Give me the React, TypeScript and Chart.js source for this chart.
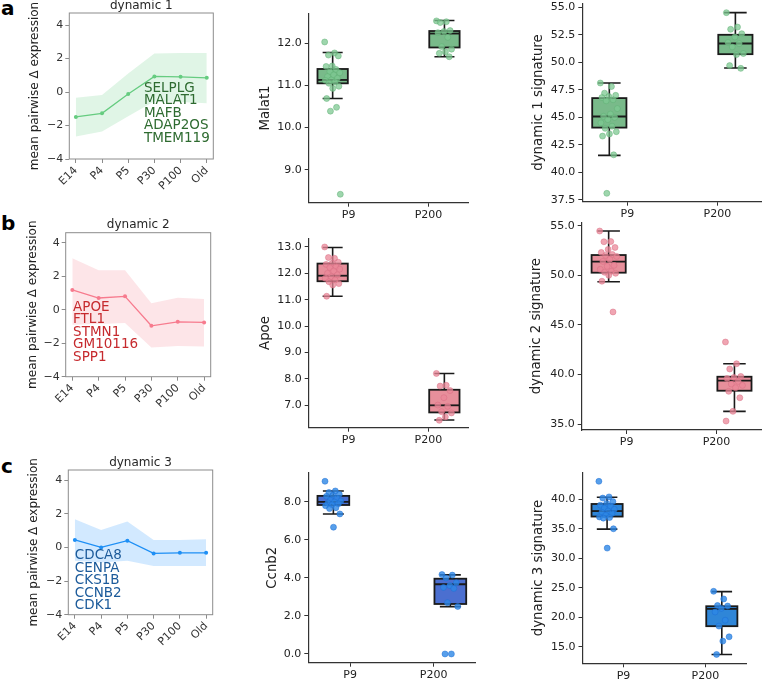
import React, { useEffect, useRef } from "react";
import { Chart, registerables } from "chart.js";

Chart.register(...registerables);
const FONT = "'DejaVu Sans', sans-serif";
Chart.defaults.font.family = FONT;

// ---------- data ----------
const stages = ["E14", "P4", "P5", "P30", "P100", "Old"];
const lineYTicks = [-4, -2, 0, 2, 4];

const dyn1Mean = [-1.49, -1.27, -0.12, 0.93, 0.91, 0.85];
const dyn1Upper = [-0.34, -0.18, 1.1, 2.3, 2.33, 2.33];
const dyn1Lower = [-2.66, -2.36, -1.45, -0.55, -0.6, -0.67];
const dyn1Genes = ["SELPLG", "MALAT1", "MAFB", "ADAP2OS", "TMEM119"];

const dyn2Mean = [1.18, 0.7, 0.8, -0.96, -0.72, -0.76];
const dyn2Upper = [3.07, 2.36, 2.36, 0.39, 0.72, 0.64];
const dyn2Lower = [-0.9, -0.85, -0.8, -2.26, -2.16, -2.2];
const dyn2Genes = ["APOE", "FTL1", "STMN1", "GM10116", "SPP1"];

const dyn3Mean = [0.44, 0.0, 0.4, -0.36, -0.32, -0.32];
const dyn3Upper = [1.68, 1.03, 1.54, 0.44, 0.44, 0.48];
const dyn3Lower = [-0.8, -0.9, -0.8, -1.11, -1.11, -1.11];
const dyn3Genes = ["CDCA8", "CENPA", "CKS1B", "CCNB2", "CDK1"];

const ages = ["P9", "P200"];

// box stats: [lower whisker, Q1, median, Q3, upper whisker]
const malat1P9 = [12.03, 11.77, 11.72, 11.7, 11.46, 11.45, 11.38, 11.33, 11.3, 11.25, 11.21, 11.17, 11.13, 11.12, 11.08, 11.05, 10.98, 10.93, 10.69, 10.48, 10.39, 8.42];
const malat1P200 = [12.53, 12.51, 12.49, 12.3, 12.28, 12.25, 12.14, 11.92, 11.86, 11.8, 11.76, 11.68];
const malat1BoxP9 = [10.69, 11.05, 11.13, 11.39, 11.78];
const malat1BoxP200 = [11.68, 11.9, 12.23, 12.29, 12.54];
const malat1Ticks = [9, 10, 11, 12];

const sig1P9 = [48.12, 47.8, 47.2, 47.0, 46.9, 46.8, 46.6, 46.5, 45.8, 45.3, 45.1, 45.0, 44.8, 44.5, 44.2, 44.0, 43.7, 43.5, 43.3, 41.6, 38.1];
const sig1P200 = [54.51, 53.2, 53.0, 52.6, 52.3, 51.8, 51.7, 51.4, 50.8, 50.7, 49.7, 49.45];
const sig1BoxP9 = [41.55, 44.07, 45.08, 46.75, 48.12];
const sig1BoxP200 = [49.49, 50.74, 51.71, 52.5, 54.51];
const sig1Ticks = [37.5, 40, 42.5, 45, 47.5, 50, 52.5, 55];

const apoeP9 = [13.0, 12.57, 12.6, 12.42, 12.38, 12.34, 12.25, 12.22, 12.16, 12.09, 12.0, 11.94, 11.87, 11.81, 11.75, 11.68, 11.61, 11.56, 11.13];
const apoeP200 = [8.2, 7.75, 7.72, 7.55, 7.28, 7.0, 6.95, 6.75, 6.7, 6.55, 6.42];
const apoeBoxP9 = [11.13, 11.7, 11.91, 12.37, 12.98];
const apoeBoxP200 = [6.43, 6.72, 6.99, 7.58, 8.2];
const apoeTicks = [7, 8, 9, 10, 11, 12, 13];

const sig2P9 = [54.46, 53.4, 53.38, 52.8, 52.6, 52.3, 52.1, 52.0, 51.9, 51.6, 51.4, 51.0, 50.9, 50.6, 50.4, 50.3, 50.2, 50.0, 49.4, 46.3];
const sig2P200 = [43.27, 41.08, 40.55, 39.8, 39.7, 39.6, 39.3, 39.03, 38.9, 38.66, 38.3, 37.65, 36.28, 35.3];
const sig2BoxP9 = [49.35, 50.26, 51.37, 52.04, 54.46];
const sig2BoxP200 = [36.28, 38.36, 39.37, 39.77, 41.08];
const sig2Ticks = [35, 40, 45, 50, 55];

const ccnb2P9 = [9.09, 8.58, 8.5, 8.4, 8.35, 8.3, 8.2, 8.1, 8.05, 8.0, 7.95, 7.9, 7.85, 7.8, 7.7, 7.65, 7.37, 6.67];
const ccnb2P200 = [4.18, 4.15, 4.0, 3.75, 3.6, 3.5, 3.45, 2.7, 2.5, 0.0, 0.0];
const ccnb2BoxP9 = [7.37, 7.84, 8.0, 8.32, 8.58];
const ccnb2BoxP200 = [2.49, 2.63, 3.67, 3.96, 4.16];
const ccnb2Ticks = [0, 2, 4, 6, 8];

const sig3P9 = [43.04, 40.4, 40.2, 39.6, 39.3, 39.0, 38.8, 38.5, 38.3, 38.0, 37.8, 37.6, 37.3, 37.0, 36.9, 36.8, 35.0, 31.72];
const sig3P200 = [24.4, 23.1, 22.0, 21.9, 21.5, 20.9, 19.5, 18.5, 16.69, 15.96, 13.7];
const sig3BoxP9 = [34.93, 37.07, 38.0, 39.2, 40.34];
const sig3BoxP200 = [13.7, 18.49, 21.42, 21.87, 24.35];
const sig3Ticks = [15, 20, 25, 30, 35, 40];

// ---------- helpers ----------
type Rect = { l: number; r: number; t: number; b: number };

const minusFmt = (v: number) => (v < 0 ? "\u2212" + Math.abs(v) : String(v));
const OFF = 0.2;
const HALF = 0.19;
const jitter = (i: number) => (((i * 0.6180339887) % 1) - 0.5) * 0.2;
const BOX_LABEL_SIZE = 13.3;

function LinePanel(p: {
  title: string; mean: number[]; upper: number[]; lower: number[]; genes: string[];
  rect: Rect; ymax: number; ylabelX: number; lineColor: string; bandColor: string;
  textColor: string; anchor: { x: number; y: number };
}) {
  const ref = useRef<HTMLCanvasElement>(null);
  const { rect } = p;
  const x0 = Math.floor(p.ylabelX - 10);
  const y0 = Math.floor(rect.t - 22);
  const W = Math.ceil(rect.r + 12) - x0;
  const H = Math.ceil(rect.b + 46) - y0;
  useEffect(() => {
    const yW = rect.l - x0;
    const padT = rect.t - y0;
    const padR = x0 + W - rect.r;
    const xH = y0 + H - rect.b;
    const lh = 12 * 1.2;
    const titlePad = p.ylabelX - x0 - lh / 2;
    const deco = {
      id: "deco",
      afterDatasetsDraw(chart: any) {
        const { ctx, chartArea: a, scales } = chart;
        ctx.save();
        ctx.strokeStyle = "#8c8c8c";
        ctx.lineWidth = 1;
        ctx.strokeRect(a.left, a.top, a.right - a.left, a.bottom - a.top);
        ctx.fillStyle = "#262626";
        ctx.font = `12px ${FONT}`;
        ctx.textAlign = "center";
        ctx.textBaseline = "middle";
        ctx.fillText(p.title, (a.left + a.right) / 2, a.top - 7.5);
        ctx.fillStyle = p.textColor;
        ctx.font = `13.5px ${FONT}`;
        ctx.textAlign = "left";
        const gx = scales.x.getPixelForValue(p.anchor.x);
        const gy = scales.y.getPixelForValue(p.anchor.y);
        p.genes.forEach((g, i) => ctx.fillText(g, gx, gy + i * 12.5));
        ctx.restore();
      },
    };
    const chart = new Chart(ref.current!, {
      type: "line",
      data: {
        datasets: [
          {
            data: p.mean.map((v, i) => ({ x: i, y: v })),
            borderColor: p.lineColor, backgroundColor: p.lineColor,
            borderWidth: 1.3, pointRadius: 2, pointBorderWidth: 0, fill: false, tension: 0,
          },
          {
            data: p.upper.map((v, i) => ({ x: i, y: v })),
            borderWidth: 0, borderColor: "transparent", pointRadius: 0,
            fill: "+1", backgroundColor: p.bandColor, tension: 0,
          },
          {
            data: p.lower.map((v, i) => ({ x: i, y: v })),
            borderWidth: 0, borderColor: "transparent", pointRadius: 0, fill: false, tension: 0,
          },
        ],
      } as any,
      options: {
        animation: false, responsive: false, devicePixelRatio: 1,
        layout: { padding: { left: 0, top: padT, right: padR, bottom: 0 } },
        plugins: { legend: { display: false }, tooltip: { enabled: false } },
        scales: {
          x: {
            type: "linear", min: -0.25, max: 5.25,
            afterBuildTicks: (s: any) => { s.ticks = stages.map((_, i) => ({ value: i })); },
            afterFit: (s: any) => { s.height = xH; },
            ticks: {
              callback: (v: any) => stages[Math.round(Number(v))],
              minRotation: 45, maxRotation: 45, autoSkip: false,
              font: { size: 11, family: FONT }, color: "#333", padding: 1,
            },
            grid: { display: true, drawOnChartArea: false, drawTicks: true, tickLength: 4, tickColor: "#8c8c8c" },
            border: { display: false },
          },
          y: {
            min: -4, max: p.ymax,
            afterBuildTicks: (s: any) => { s.ticks = lineYTicks.map((v) => ({ value: v })); },
            afterFit: (s: any) => { s.width = yW; },
            ticks: { callback: (v: any) => minusFmt(Number(v)), font: { size: 11, family: FONT }, color: "#333", padding: 2 },
            grid: { display: true, drawOnChartArea: false, drawTicks: true, tickLength: 4, tickColor: "#8c8c8c" },
            border: { display: false },
            title: {
              display: true, text: "mean pairwise \u0394 expression",
              font: { size: 12, family: FONT }, color: "#222", padding: { top: titlePad, bottom: 0 },
            },
          },
        },
      } as any,
      plugins: [deco],
    });
    return () => chart.destroy();
  }, []);
  return <canvas ref={ref} width={W} height={H} style={{ position: "absolute", left: x0, top: y0, width: W, height: H }} />;
}

function BoxPanel(p: {
  ylabel: string; groups: { values: number[]; stats: number[] }[]; rect: Rect;
  ymin: number; ymax: number; yticks: number[]; ylabelX: number;
  boxColor: string; pointColor: string; pointEdge: string;
}) {
  const ref = useRef<HTMLCanvasElement>(null);
  const { rect } = p;
  const x0 = Math.floor(p.ylabelX - 11);
  const y0 = Math.floor(rect.t - 16);
  const W = Math.ceil(rect.r + 4) - x0;
  const H = Math.ceil(rect.b + 26) - y0;
  useEffect(() => {
    const yW = rect.l - x0;
    const padT = rect.t - y0;
    const padR = x0 + W - rect.r;
    const xH = y0 + H - rect.b;
    const lh = BOX_LABEL_SIZE * 1.2;
    const titlePad = p.ylabelX - x0 - lh / 2;
    const boxes = {
      id: "boxes",
      beforeDatasetsDraw(chart: any) {
        const { ctx, scales: { x, y } } = chart;
        p.groups.forEach((g, gi) => {
          const c = gi + (gi === 0 ? -OFF : OFF);
          const [wl, q1, med, q3, wh] = g.stats;
          const xl = x.getPixelForValue(c - HALF);
          const xr = x.getPixelForValue(c + HALF);
          const xc = x.getPixelForValue(c);
          const cap = (xr - xl) * 0.33;
          const Y = (v: number) => y.getPixelForValue(v);
          ctx.save();
          ctx.strokeStyle = "#1a1a1a";
          ctx.lineWidth = 1.6;
          ctx.beginPath();
          ctx.moveTo(xc, Y(q3)); ctx.lineTo(xc, Y(wh));
          ctx.moveTo(xc - cap, Y(wh)); ctx.lineTo(xc + cap, Y(wh));
          ctx.moveTo(xc, Y(q1)); ctx.lineTo(xc, Y(wl));
          ctx.moveTo(xc - cap, Y(wl)); ctx.lineTo(xc + cap, Y(wl));
          ctx.stroke();
          ctx.fillStyle = p.boxColor;
          ctx.fillRect(xl, Y(q3), xr - xl, Y(q1) - Y(q3));
          ctx.lineWidth = 1.8;
          ctx.strokeRect(xl, Y(q3), xr - xl, Y(q1) - Y(q3));
          ctx.beginPath();
          ctx.moveTo(xl, Y(med)); ctx.lineTo(xr, Y(med));
          ctx.stroke();
          ctx.restore();
        });
      },
    };
    const chart = new Chart(ref.current!, {
      type: "scatter",
      data: {
        datasets: p.groups.map((g, gi) => ({
          data: g.values.map((v, i) => ({ x: gi + (gi === 0 ? -OFF : OFF) + jitter(i), y: v })),
          pointRadius: 3, pointBackgroundColor: p.pointColor, pointBorderColor: p.pointEdge, pointBorderWidth: 0.6,
        })),
      } as any,
      options: {
        animation: false, responsive: false, devicePixelRatio: 1,
        layout: { padding: { left: 0, top: padT, right: padR, bottom: 0 } },
        plugins: { legend: { display: false }, tooltip: { enabled: false } },
        scales: {
          x: {
            type: "linear", min: -0.5, max: 1.5,
            afterBuildTicks: (s: any) => { s.ticks = ages.map((_, i) => ({ value: i })); },
            afterFit: (s: any) => { s.height = xH; },
            ticks: {
              callback: (v: any) => ages[Math.round(Number(v))],
              maxRotation: 0, autoSkip: false,
              font: { size: 11, family: FONT }, color: "#222", padding: 2,
            },
            grid: { display: true, drawOnChartArea: false, drawTicks: true, tickLength: 4, tickColor: "#333" },
            border: { display: true, color: "#333", width: 1.2 },
          },
          y: {
            min: p.ymin, max: p.ymax,
            afterBuildTicks: (s: any) => { s.ticks = p.yticks.map((v) => ({ value: v })); },
            afterFit: (s: any) => { s.width = yW; },
            ticks: { callback: (v: any) => Number(v).toFixed(1), font: { size: 11, family: FONT }, color: "#222", padding: 3 },
            grid: { display: true, drawOnChartArea: false, drawTicks: true, tickLength: 4, tickColor: "#333" },
            border: { display: true, color: "#333", width: 1.2 },
            title: {
              display: true, text: p.ylabel,
              font: { size: BOX_LABEL_SIZE, family: FONT }, color: "#222", padding: { top: titlePad, bottom: 0 },
            },
          },
        },
      } as any,
      plugins: [boxes],
    });
    return () => chart.destroy();
  }, []);
  return <canvas ref={ref} width={W} height={H} style={{ position: "absolute", left: x0, top: y0, width: W, height: H }} />;
}

const letterStyle = (top: number): React.CSSProperties => ({
  position: "absolute", left: 1, top, fontFamily: FONT, fontWeight: "bold",
  fontSize: 20, lineHeight: "20px", color: "#000",
});

export default function App() {
  return (
    <div style={{ position: "absolute", left: 0, top: 0, width: 762, height: 681, overflow: "hidden", background: "#fff" }}>
      <LinePanel title="dynamic 1" mean={dyn1Mean} upper={dyn1Upper} lower={dyn1Lower} genes={dyn1Genes}
        rect={{ l: 69.3, r: 213.3, t: 13, b: 159 }} ymax={4.72} ylabelX={35}
        lineColor="#66cc80" bandColor="rgba(102,204,128,0.2)" textColor="#2e6b30" anchor={{ x: 2.6, y: 0.24 }} />
      <LinePanel title="dynamic 2" mean={dyn2Mean} upper={dyn2Upper} lower={dyn2Lower} genes={dyn2Genes}
        rect={{ l: 65.7, r: 210.7, t: 232.7, b: 376.7 }} ymax={4.6} ylabelX={32.5}
        lineColor="#f77b8e" bandColor="rgba(247,123,142,0.2)" textColor="#c62a2e" anchor={{ x: 0.03, y: 0.16 }} />
      <LinePanel title="dynamic 3" mean={dyn3Mean} upper={dyn3Upper} lower={dyn3Lower} genes={dyn3Genes}
        rect={{ l: 68.3, r: 212.7, t: 470, b: 614.7 }} ymax={4.6} ylabelX={34}
        lineColor="#1e8ff5" bandColor="rgba(30,144,255,0.2)" textColor="#1b5a9a" anchor={{ x: 0.0, y: -0.49 }} />

      <BoxPanel ylabel="Malat1" groups={[{ values: malat1P9, stats: malat1BoxP9 }, { values: malat1P200, stats: malat1BoxP200 }]}
        rect={{ l: 308.7, r: 469, t: 13.3, b: 202.7 }} ymin={8.22} ymax={12.71} yticks={malat1Ticks} ylabelX={265.5}
        boxColor="#79ba8a" pointColor="rgba(125,200,145,0.75)" pointEdge="rgba(95,175,115,0.8)" />
      <BoxPanel ylabel="dynamic 1 signature" groups={[{ values: sig1P9, stats: sig1BoxP9 }, { values: sig1P200, stats: sig1BoxP200 }]}
        rect={{ l: 582.3, r: 762.5, t: 3.3, b: 201.7 }} ymin={37.34} ymax={55.36} yticks={sig1Ticks} ylabelX={538.3}
        boxColor="#79ba8a" pointColor="rgba(125,200,145,0.75)" pointEdge="rgba(95,175,115,0.8)" />
      <BoxPanel ylabel="Apoe" groups={[{ values: apoeP9, stats: apoeBoxP9 }, { values: apoeP200, stats: apoeBoxP200 }]}
        rect={{ l: 308.7, r: 468.3, t: 238.3, b: 427.7 }} ymin={6.14} ymax={13.33} yticks={apoeTicks} ylabelX={266}
        boxColor="#e78f9b" pointColor="rgba(235,135,152,0.75)" pointEdge="rgba(215,110,130,0.8)" />
      <BoxPanel ylabel="dynamic 2 signature" groups={[{ values: sig2P9, stats: sig2BoxP9 }, { values: sig2P200, stats: sig2BoxP200 }]}
        rect={{ l: 581.7, r: 761.7, t: 222.3, b: 430 }} ymin={34.4} ymax={55.34} yticks={sig2Ticks} ylabelX={536.2}
        boxColor="#e78f9b" pointColor="rgba(235,135,152,0.75)" pointEdge="rgba(215,110,130,0.8)" />
      <BoxPanel ylabel="Ccnb2" groups={[{ values: ccnb2P9, stats: ccnb2BoxP9 }, { values: ccnb2P200, stats: ccnb2BoxP200 }]}
        rect={{ l: 308.3, r: 476, t: 472.7, b: 662.7 }} ymin={-0.46} ymax={9.54} yticks={ccnb2Ticks} ylabelX={273}
        boxColor="#4b6fd0" pointColor="rgba(45,135,230,0.8)" pointEdge="rgba(30,110,210,0.8)" />
      <BoxPanel ylabel="dynamic 3 signature" groups={[{ values: sig3P9, stats: sig3BoxP9 }, { values: sig3P200, stats: sig3BoxP200 }]}
        rect={{ l: 582.5, r: 746.5, t: 472.7, b: 663.3 }} ymin={12.2} ymax={44.5} yticks={sig3Ticks} ylabelX={539}
        boxColor="#2f86d8" pointColor="rgba(45,135,230,0.8)" pointEdge="rgba(30,110,210,0.8)" />

      <div style={letterStyle(-2)}>a</div>
      <div style={letterStyle(213)}>b</div>
      <div style={letterStyle(456)}>c</div>
    </div>
  );
}
